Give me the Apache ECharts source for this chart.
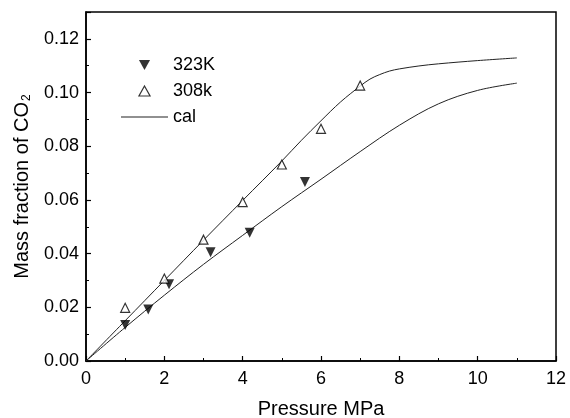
<!DOCTYPE html>
<html>
<head>
<meta charset="utf-8">
<script src="https://cdn.jsdelivr.net/npm/echarts@6/dist/echarts.min.js"></script>
<style>html,body{margin:0;padding:0;background:#fff}#c{width:570px;height:418px}</style>
</head>
<body>
<div id="c"></div>
<script>
// Experimental points
var p323 = [1.0, 1.59, 2.12, 3.18, 4.18, 5.59];
var w323 = [0.0134, 0.0192, 0.0286, 0.0405, 0.0478, 0.0667];
var p308 = [1, 2, 3, 4, 5, 6, 7];
var w308 = [0.0198, 0.0307, 0.0452, 0.0592, 0.0732, 0.0865, 0.1026];
// Calculated curves
var calUpperP = [0, 1, 2, 3, 4, 5, 5.5, 6, 6.5, 7, 7.25, 7.5, 7.75, 8, 8.5, 9, 10, 11];
var calUpperW = [0, 0.0150, 0.0300, 0.0450, 0.0598, 0.0745, 0.0822, 0.0895, 0.0965, 0.1024, 0.1050, 0.1067, 0.1080, 0.1088, 0.1099, 0.1107, 0.1119, 0.1129];
var calLowerP = [0, 1, 2, 3, 4, 5, 6, 7, 8, 9, 10, 11];
var calLowerW = [0, 0.0125, 0.0245, 0.0360, 0.0468, 0.0575, 0.0677, 0.0780, 0.0878, 0.0958, 0.1008, 0.1035];
var xTicks = [0, 2, 4, 6, 8, 10, 12];
var yTicks = [0, 0.02, 0.04, 0.06, 0.08, 0.10, 0.12];

function zip(a, b) { return a.map(function (v, i) { return [v, b[i]]; }); }

var chart = echarts.init(document.getElementById('c'));
var font = 'Liberation Sans, Arial, sans-serif';
chart.setOption({
  animation: false,
  backgroundColor: '#fff',
  grid: { left: 86, right: 14, top: 12, bottom: 57, containLabel: false, outerBoundsMode: 'none',
    show: true, borderColor: '#000', borderWidth: 1.5, backgroundColor: 'transparent' },
  legend: {
    orient: 'vertical', left: 116, top: 51, itemWidth: 47, itemHeight: 10, itemGap: 8,
    symbolKeepAspect: true,
    textStyle: { fontFamily: font, fontSize: 18, color: '#000' },
    data: [
      { name: '323K', icon: 'path://M0,0L10,0L5,9Z', itemStyle: { color: '#000' } },
      { name: '308k', icon: 'path://M5,0L10,9L0,9Z', itemStyle: { color: '#fff', borderColor: '#000', borderWidth: 1.2 } },
      { name: 'cal', icon: 'path://M0,0L47,0L47,1L0,1Z', itemStyle: { color: '#222' } }
    ]
  },
  xAxis: {
    type: 'value', min: 0, max: 12, interval: 2,
    name: 'Pressure MPa', nameLocation: 'middle', nameGap: 38,
    nameTextStyle: { fontFamily: font, fontSize: 20, color: '#000' },
    axisLine: { lineStyle: { color: '#000', width: 1.5 } },
    axisTick: { inside: true, length: 5, lineStyle: { color: '#000', width: 1.2 } },
    minorTick: { show: true, splitNumber: 2, length: 3, lineStyle: { color: '#000', width: 1 } },
    axisLabel: { fontFamily: font, fontSize: 18, color: '#000', margin: 9,
      formatter: function (v) { return xTicks.indexOf(v) >= 0 ? String(v) : ''; } },
    splitLine: { show: false }
  },
  yAxis: {
    type: 'value', min: 0, max: 0.13, interval: 0.02,
    name: '{a|Mass fraction of CO}{s|2}', nameLocation: 'middle', nameGap: 43, nameRotate: 90,
    nameTextStyle: { fontFamily: font, fontSize: 20, color: '#000',
      rich: { a: { fontFamily: font, fontSize: 20, color: '#000' }, s: { fontFamily: font, fontSize: 12, color: '#000', verticalAlign: 'bottom', padding: [10, 0, 0, 1] } } },
    axisLine: { lineStyle: { color: '#000', width: 1.5 } },
    axisTick: { inside: true, length: 5, lineStyle: { color: '#000', width: 1.2 } },
    minorTick: { show: true, splitNumber: 2, length: 3, lineStyle: { color: '#000', width: 1 } },
    axisLabel: { fontFamily: font, fontSize: 18, color: '#000', margin: 7, showMaxLabel: false,
      formatter: function (v) {
        for (var i = 0; i < yTicks.length; i++) { if (Math.abs(yTicks[i] - v) < 1e-9) return yTicks[i].toFixed(2); }
        return '';
      } },
    splitLine: { show: false }
  },
  series: [
    { name: 'cal', type: 'line', data: zip(calUpperP, calUpperW), smooth: 0.35, showSymbol: false, symbol: 'none',
      lineStyle: { color: '#222', width: 1 }, itemStyle: { color: '#222' }, z: 1 },
    { name: 'cal', type: 'line', data: zip(calLowerP, calLowerW), smooth: 0.35, showSymbol: false, symbol: 'none',
      lineStyle: { color: '#222', width: 1 }, itemStyle: { color: '#222' }, z: 1 },
    { name: '323K', type: 'scatter', data: zip(p323, w323), symbol: 'triangle', symbolRotate: 180, symbolSize: 10,
      itemStyle: { color: '#000' }, z: 3 },
    { name: '308k', type: 'scatter', data: zip(p308, w308), symbol: 'triangle', symbolSize: 9,
      itemStyle: { color: '#fff', borderColor: '#000', borderWidth: 1.2 }, z: 3 }
  ]
});
</script>
</body>
</html>
